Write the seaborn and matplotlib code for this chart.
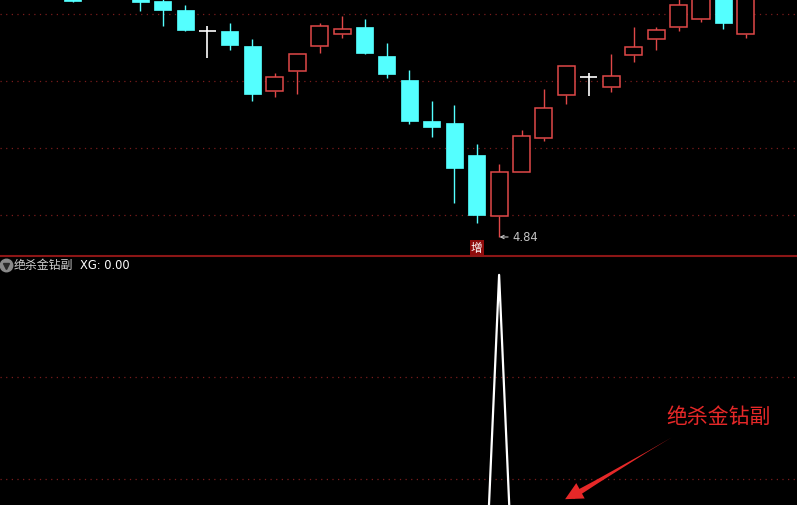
import numpy as np
import pandas as pd
import matplotlib
matplotlib.use("Agg")
import matplotlib.pyplot as plt
import seaborn as sns
from matplotlib.lines import Line2D
from matplotlib.patches import FancyArrowPatch

# Candle data (price), one entry per bar
opens = [6.286, 6.274, 6.442, 6.298, 6.256, 6.202, 6.076, 6.076, 5.986, 5.716, 5.836,
         5.986, 6.058, 6.100, 5.926, 5.782, 5.536, 5.524, 5.332, 4.966, 5.230, 5.434,
         5.692, 5.800, 5.740, 5.932, 6.028, 6.100, 6.148, 6.292, 6.058]
highs = [6.310, 6.412, 6.472, 6.322, 6.274, 6.232, 6.106, 6.124, 6.028, 5.824, 5.938,
         6.124, 6.166, 6.148, 6.004, 5.842, 5.656, 5.632, 5.398, 5.278, 5.482, 5.728,
         5.866, 5.824, 5.938, 6.100, 6.100, 6.274, 6.322, 6.322, 6.310]
lows = [6.250, 6.268, 6.280, 6.196, 6.106, 6.076, 5.914, 5.962, 5.656, 5.680, 5.698,
        5.944, 6.034, 5.938, 5.794, 5.518, 5.440, 5.044, 4.924, 4.840, 5.230, 5.416,
        5.638, 5.686, 5.710, 5.890, 5.962, 6.076, 6.130, 6.088, 6.034]
closes = [6.256, 6.382, 6.292, 6.250, 6.202, 6.082, 6.076, 5.992, 5.698, 5.800, 5.938,
          6.106, 6.088, 5.944, 5.818, 5.536, 5.500, 5.254, 4.972, 5.230, 5.446, 5.614,
          5.866, 5.800, 5.806, 5.980, 6.082, 6.232, 6.292, 6.124, 6.280]

# indicator XG (sub panel)
xg = [0, 0, 0, 0, 0, 0, 0, 0, 0, 0, 0, 0, 0, 0, 0, 0, 0, 0, 0, 100,
      0, 0, 0, 0, 0, 0, 0, 0, 0, 0, 0]

price_grid = [6.178, 5.776, 5.374, 4.972]
xg_grid = [80, 60]
low_label = "4.84"
signal_label = "增"
ind_name = "绝杀金钻副"

UP = "#e04848"
DOWN = "#54ffff"
GRID = "#7a1c1c"

df = pd.DataFrame({"open": opens, "high": highs, "low": lows, "close": closes, "xg": xg})
df["i"] = np.arange(len(df))

sns.set_style("dark", {"axes.facecolor": "black", "figure.facecolor": "black"})
plt.rcParams["font.family"] = ["Noto Sans CJK SC", "DejaVu Sans"]

fig = plt.figure(figsize=(7.97, 5.05), dpi=100, facecolor="black")
ax1 = fig.add_axes([0, 250 / 505, 1, 255 / 505])
ax2 = fig.add_axes([0, 0, 1, 249 / 505])

xlim = (-3.25, 32.28)
bw = 0.76

# --- main panel: candles
for r in df.itertuples():
    top = max(r.open, r.close)
    bot = min(r.open, r.close)
    if r.close > r.open:
        ax1.vlines(r.i, top, r.high, color=UP, lw=1.0)
        ax1.vlines(r.i, r.low, bot, color=UP, lw=1.0)
        ax1.bar(r.i, top - bot, bottom=bot, width=bw, facecolor="black",
                edgecolor=UP, linewidth=1.1, zorder=3)
    elif r.close < r.open:
        ax1.vlines(r.i, r.low, r.high, color=DOWN, lw=1.0)
        ax1.bar(r.i, top - bot, bottom=bot, width=bw, color=DOWN,
                edgecolor=DOWN, linewidth=0.5, zorder=3)
    else:
        ax1.vlines(r.i, r.low, r.high, color="white", lw=1.2)
        ax1.hlines(r.open, r.i - bw / 2, r.i + bw / 2, color="white", lw=1.2, zorder=3)

for g in price_grid:
    ax1.axhline(g, color=GRID, lw=0.9, ls=(0, (1, 3.5)), zorder=0)

ax1.set_xlim(*xlim)
ax1.set_ylim(4.732, 6.262)

# lowest price marker
lo_i = int(df["low"].idxmin())
ax1.annotate(low_label, xy=(lo_i + 0.02, df["low"][lo_i]), xytext=(9, 0),
             textcoords="offset points", va="center", ha="left", fontsize=8.4,
             color="#c4c4c4", family="DejaVu Sans",
             arrowprops=dict(arrowstyle="->", color="#c4c4c4", lw=0.8,
                             shrinkA=0.5, shrinkB=0, mutation_scale=6))
ax1.text(lo_i - 1, 4.774, signal_label, ha="center", va="center", fontsize=8.3,
         color="white", bbox=dict(boxstyle="square,pad=0.12", fc="#8e0b0b", ec="none"))

# --- sub panel: XG
sns.lineplot(data=df, x="i", y="xg", ax=ax2, color="white", lw=1.6)
for g in xg_grid:
    ax2.axhline(g, color=GRID, lw=0.9, ls=(0, (1, 3.5)), zorder=0)
ax2.set_xlim(*xlim)
ax2.set_ylim(54.9, 103.7)

ax2.plot([0.007], [0.963], marker="o", ms=9, color="#8a8a8a", transform=ax2.transAxes,
         clip_on=False)
ax2.plot([0.007], [0.958], marker="v", ms=4, color="#2a2a2a", transform=ax2.transAxes,
         clip_on=False)
ax2.text(0.017, 0.963, ind_name, transform=ax2.transAxes, fontsize=8.6,
         color="#cfcfcf", va="center", ha="left")
ax2.text(0.1, 0.963, f"XG: {xg[-1]:.2f}", transform=ax2.transAxes, fontsize=8.3,
         color="white", va="center", ha="left", family="DejaVu Sans")

# red callout
ax2.text(0.901, 0.355, ind_name, transform=ax2.transAxes, fontsize=15,
         color="#e62828", ha="center", va="center")
shaft = FancyArrowPatch((0.718, 0.035), (0.843, 0.272), transform=ax2.transAxes,
                        arrowstyle="wedge,tail_width=4.5,shrink_factor=0.3",
                        color="#e62828", lw=0, shrinkA=0, shrinkB=0)
ax2.add_patch(shaft)
ax2.annotate("", xy=(0.706, 0.018), xytext=(0.73, 0.06), xycoords="axes fraction",
             arrowprops=dict(arrowstyle="-|>,head_length=0.9,head_width=0.45",
                             color="#e62828", lw=0, mutation_scale=14))

for ax in (ax1, ax2):
    ax.set_facecolor("black")
    ax.set_xticks([])
    ax.set_yticks([])
    ax.set_xlabel("")
    ax.set_ylabel("")
    ax.grid(False)
    for s in ax.spines.values():
        s.set_visible(False)

fig.add_artist(Line2D([0, 1], [249.5 / 505, 249.5 / 505], color="#8c1616", lw=1.5,
                      transform=fig.transFigure))

fig.savefig("out.png", dpi=100, facecolor="black")
